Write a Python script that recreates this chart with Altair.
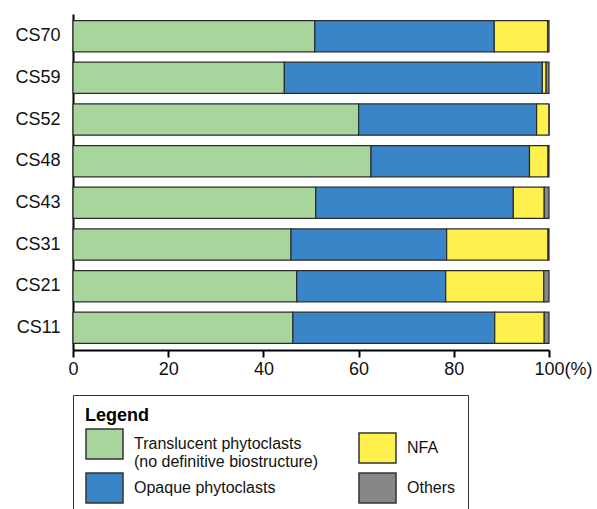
import altair as alt
import pandas as pd

samples = ["CS70", "CS59", "CS52", "CS48", "CS43", "CS31", "CS21", "CS11"]
translucent = [50.8, 44.4, 60.0, 62.6, 51.0, 45.8, 47.0, 46.2]
opaque = [37.7, 54.2, 37.4, 33.3, 41.5, 32.7, 31.3, 42.4]
nfa = [11.2, 0.8, 2.6, 3.9, 6.5, 21.3, 20.6, 10.4]
others = [0.3, 0.6, 0.0, 0.2, 1.0, 0.2, 1.1, 1.0]

categories = [
    "Translucent phytoclasts|(no definitive biostructure)",
    "Opaque phytoclasts",
    "NFA",
    "Others",
]
cat_colors = ["#a7d59b", "#3985c8", "#fff04d", "#878787"]
x_ticks = [0, 20, 40, 60, 80, 100]

series = [translucent, opaque, nfa, others]
rows = []
for ci, (cat, vals) in enumerate(zip(categories, series)):
    for s, v in zip(samples, vals):
        rows.append({"sample": s, "category": cat, "value": v, "order": ci})
df = pd.DataFrame(rows)

FONT = "Liberation Sans"

chart = alt.Chart(df).mark_bar(stroke="#2b2b2b", strokeWidth=1.2).encode(
    x=alt.X(
        "value:Q",
        stack="zero",
        scale=alt.Scale(domain=[0, 100], nice=False),
        axis=alt.Axis(
            values=x_ticks,
            title=None,
            grid=False,
            domainColor="#000",
            domainWidth=2,
            tickColor="#000",
            tickWidth=2,
            tickSize=7,
            labelPadding=3,
            labelFont=FONT,
            labelFontSize=18,
            labelColor="#111",
            labelExpr="datum.value == 100 ? '100(%)' : datum.label",
            labelOffset=alt.ConditionalAxisNumber(
                condition={"test": "datum.value == 100", "value": 14}, value=0
            ),
            labelFlush=False,
            labelOverlap=False,
        ),
    ),
    y=alt.Y(
        "sample:N",
        sort=samples,
        scale=alt.Scale(paddingInner=0.25, paddingOuter=0.157),
        axis=alt.Axis(
            title=None,
            ticks=False,
            grid=False,
            domainColor="#000",
            domainWidth=2,
            labelPadding=13,
            labelFont=FONT,
            labelFontSize=18,
            labelColor="#111",
        ),
    ),
    color=alt.Color(
        "category:N",
        scale=alt.Scale(domain=categories, range=cat_colors),
        legend=alt.Legend(
            orient="none",
            legendX=0,
            legendY=381,
            columns=2,
            title="Legend",
            titleFont=FONT,
            titleFontSize=18,
            titleFontWeight="bold",
            titleColor="#000",
            titleAnchor="start",
            titlePadding=3,
            symbolType="M-1,-1L1.467,-1L1.467,1L-1,1Z",
            symbolSize=900,
            symbolStrokeColor="#333",
            symbolStrokeWidth=1.5,
            symbolOpacity=1,
            labelFont=FONT,
            labelFontSize=16,
            labelColor="#111",
            labelOffset=17,
            labelLimit=400,
            labelExpr="split(datum.label, '|')",
            strokeColor="#333",
            fillColor="white",
            padding=12,
            rowPadding=0,
            columnPadding=37,
        ),
    ),
    order=alt.Order("order:Q"),
).properties(
    width=476,
    height=336,
    padding={"left": 14, "top": 14, "right": 2, "bottom": 0},
).configure_view(stroke=None)

chart.save("out.html", embed_options={"renderer": "svg", "actions": False})
